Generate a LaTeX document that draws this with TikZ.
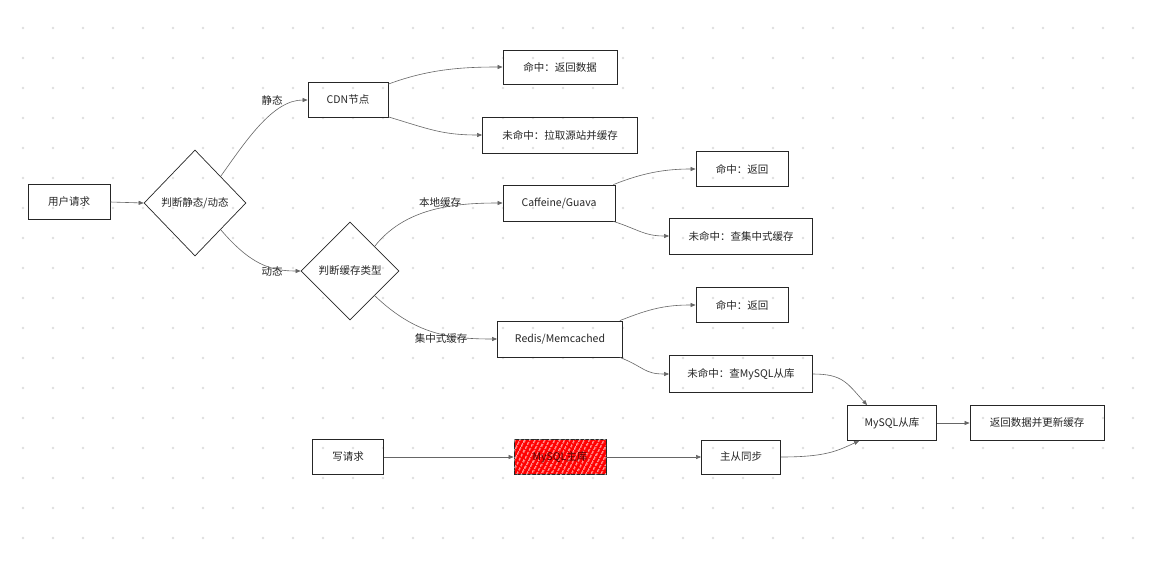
\documentclass[tikz,border=0pt]{standalone}
\usepackage{fontspec}
\setmainfont{Noto Sans CJK SC}
\usetikzlibrary{shapes.geometric,arrows.meta,calc,patterns.meta}
\begin{document}
\begin{tikzpicture}[x=1pt,y=-1pt,
  txt/.style={font=\fontsize{10.5}{12}\selectfont, text=black!85},
  box/.style={txt, draw=black!85, line width=0.8pt, inner sep=0pt, rectangle},
  dia/.style={txt, diamond, draw=black!85, line width=0.7pt, inner sep=0pt},
  conn/.style={draw=black!60, line width=0.6pt, -{Triangle[length=5pt,width=4pt]}},
  lbl/.style={txt}]
\useasboundingbox (0,0) rectangle (1149,565);
\fill[white] (0,0) rectangle (1149,565);
% dot grid
\foreach \i in {0,...,37}{
  \foreach \j in {0,...,17}{
    \fill[black!13] (23+30*\i, 28+30*\j) circle (1.3pt);
  }
}
% nodes
\node[box, minimum width=82pt, minimum height=35pt] (req) at (69,202) {用户请求};
\node[dia, minimum width=102pt, minimum height=106pt] (d1) at (195,203) {判断静态/动态};
\node[box, minimum width=80pt, minimum height=35pt] (cdn) at (348,100) {CDN节点};
\node[box, minimum width=114pt, minimum height=34pt] (hitA) at (560,67) {命中：返回数据};
\node[box, minimum width=155pt, minimum height=36pt] (missA) at (560,135) {未命中：拉取源站并缓存};
\node[dia, minimum width=98pt, minimum height=98pt] (d2) at (350,271) {判断缓存类型};
\node[box, minimum width=112pt, minimum height=36pt] (caf) at (559,203) {Caffeine/Guava};
\node[box, minimum width=92pt, minimum height=35pt] (hitB) at (742,169) {命中：返回};
\node[box, minimum width=143pt, minimum height=36pt] (missB) at (741,236) {未命中：查集中式缓存};
\node[box, minimum width=125pt, minimum height=36pt] (red) at (560,339) {Redis/Memcached};
\node[box, minimum width=92pt, minimum height=35pt] (hitC) at (742,305) {命中：返回};
\node[box, minimum width=143pt, minimum height=37pt] (missC) at (741,374) {未命中：查MySQL从库};
\node[box, minimum width=89pt, minimum height=35pt] (slave) at (892,423) {MySQL从库};
\node[box, minimum width=134pt, minimum height=35pt] (ret) at (1037,423) {返回数据并更新缓存};
\node[box, minimum width=71pt, minimum height=35pt] (wr) at (348,457) {写请求};
\node[box, minimum width=92pt, minimum height=35pt, fill=red, text=red!35!black,
  postaction={pattern={Lines[angle=62,distance=4pt,line width=1pt]}, pattern color=white}] (master) at (560,457) {MySQL主库};
\node[box, minimum width=79pt, minimum height=34pt] (sync) at (741,457) {主从同步};
% connectors
\draw[conn] (req.east) -- (d1.west);
\draw[conn] (d1.north east) .. controls +(25,-35) and +(-35,0) .. (cdn.west);
\node[lbl] (lS) at (272,100) {静态};
\draw[conn] (d1.south east) .. controls +(30,35) and +(-30,0) .. (d2.west);
\node[lbl] (lD) at (272,271) {动态};
\draw[conn] ($(cdn.north east)+(0,2)$) .. controls +(40,-15) and +(-40,0) .. (hitA.west);
\draw[conn] ($(cdn.south east)+(0,-1)$) .. controls +(40,12) and +(-40,0) .. (missA.west);
\draw[conn] (d2.north east) .. controls +(30,-38) and +(-50,0) .. (caf.west);
\node[lbl] (lL) at (440,203) {本地缓存};
\draw[conn] (d2.south east) .. controls +(40,38) and +(-50,0) .. (red.west);
\node[lbl] (lC) at (441,339) {集中式缓存};
\draw[conn] ($(caf.north east)+(-2,0)$) .. controls +(30,-12) and +(-30,0) .. (hitB.west);
\draw[conn] ($(caf.south east)+(-2,0)$) .. controls +(25,8) and +(-25,0) .. (missB.west);
\draw[conn] ($(red.north east)+(-3,0)$) .. controls +(30,-12) and +(-30,0) .. (hitC.west);
\draw[conn] ($(red.south east)+(-3,0)$) .. controls +(25,10) and +(-25,0) .. (missC.west);
\draw[conn] (missC.east) .. controls +(30,0) and +(-20,-22) .. ($(slave.north west)+(20,0)$);
\draw[conn] (slave.east) -- (ret.west);
\draw[conn] (wr.east) -- (master.west);
\draw[conn] (master.east) -- (sync.west);
\draw[conn] (sync.east) .. controls +(45,0) and +(-22,10) .. ($(slave.south west)+(12,0)$);
\end{tikzpicture}
\end{document}
